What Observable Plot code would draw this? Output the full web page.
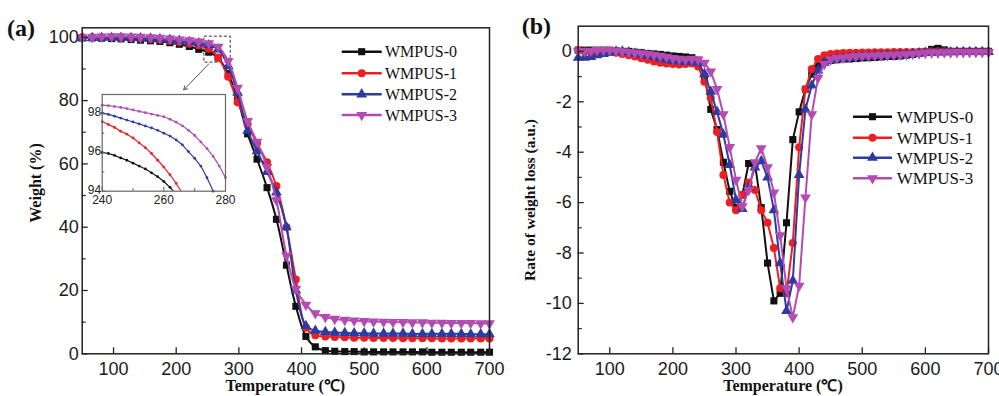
<!DOCTYPE html>
<html><head><meta charset="utf-8">
<script src="https://cdn.jsdelivr.net/npm/d3@7"></script>
<script src="https://cdn.jsdelivr.net/npm/@observablehq/plot@0.6"></script>
<style>
html,body{margin:0;padding:0;background:#fff;}
#wrap{position:relative;width:999px;height:396px;overflow:hidden;background:#fff;}
#wrap svg{position:absolute;}
</style></head><body><div id="wrap"></div>
<script>
// ---------- data ----------
const seriesNames = ["WMPUS-0", "WMPUS-1", "WMPUS-2", "WMPUS-3"];
const seriesColors = ["#111111", "#ee1f23", "#2c3b9f", "#b34bb3"];

// (a) TGA: temperature (°C) and weight (%)
const tgaTemp = [50, 66, 81, 97, 112, 128, 143, 159, 174, 190,
  205, 221, 236, 252, 267, 283, 298, 314, 329, 345,
  360, 376, 391, 407, 422, 438, 453, 469, 484, 500,
  515, 531, 546, 562, 577, 593, 608, 624, 639, 655,
  670, 686, 700];
const tga0 = [99.8, 99.8, 99.7, 99.6, 99.5, 99.3, 99.1, 98.9, 98.7, 98.3,
  97.8, 97.1, 96.2, 95.3, 93.5, 88.5, 80.5, 69.5, 61.5, 52.5,
  42.5, 28.0, 15.0, 5.5, 2.2, 1.0, 0.8, 0.7, 0.7, 0.6,
  0.6, 0.6, 0.6, 0.6, 0.6, 0.6, 0.5, 0.5, 0.5, 0.5,
  0.5, 0.5, 0.5];
const tga1 = [100.0, 100.0, 99.9, 99.9, 99.8, 99.7, 99.6, 99.4, 99.2, 98.9,
  98.5, 98.0, 97.5, 96.4, 93.6, 87.5, 79.5, 72.5, 66.5, 60.5,
  53.0, 40.0, 23.5, 8.2, 5.9, 5.5, 5.3, 5.2, 5.1, 5.1,
  5.0, 5.0, 5.0, 4.9, 4.9, 4.9, 4.9, 4.8, 4.8, 4.8,
  4.8, 4.8, 4.8];
const tga2 = [99.7, 99.8, 99.9, 99.9, 99.9, 99.8, 99.7, 99.6, 99.4, 99.2,
  98.9, 98.5, 98.1, 97.5, 96.2, 91.0, 82.5, 70.5, 64.0, 57.5,
  51.0, 40.0, 20.0, 8.8, 7.3, 6.9, 6.7, 6.6, 6.5, 6.5,
  6.4, 6.4, 6.4, 6.4, 6.3, 6.3, 6.3, 6.3, 6.3, 6.3,
  6.2, 6.2, 6.2];
const tga3 = [99.9, 100.0, 100.2, 100.3, 100.3, 100.2, 100.1, 100.0, 99.8, 99.6,
  99.3, 99.0, 98.6, 98.1, 97.0, 92.5, 84.0, 73.5, 67.0, 59.0,
  48.5, 31.0, 20.5, 15.5, 12.8, 11.6, 11.0, 10.7, 10.5, 10.3,
  10.2, 10.1, 10.0, 10.0, 9.9, 9.9, 9.8, 9.8, 9.7, 9.7,
  9.7, 9.6, 9.6];

// inset of (a): 240–280 °C
const insetTemp = [240, 242, 244, 246, 248, 250, 252, 254, 256, 258,
  260, 262, 264, 266, 268, 270, 272, 274, 276, 278, 280];
const inset0 = [96.0, 95.95, 95.85, 95.72, 95.6, 95.45, 95.3, 95.15, 94.95, 94.75,
  94.5, 94.2, 93.85, null, null, null, null, null, null, null, null];
const inset1 = [97.6, 97.45, 97.3, 97.1, 96.95, 96.75, 96.5, 96.25, 95.95, 95.6,
  95.25, 94.85, 94.4, 93.9, null, null, null, null, null, null, null];
const inset2 = [98.05, 97.97, 97.88, 97.78, 97.68, 97.58, 97.48, 97.37, 97.27, 97.15,
  97.0, 96.85, 96.65, 96.4, 96.05, 95.7, 95.3, 94.7, 94.0, 93.2, null];
const inset3 = [98.45, 98.42, 98.38, 98.33, 98.27, 98.2, 98.13, 98.06, 97.99, 97.92,
  97.85, 97.72, 97.57, 97.38, 97.15, 96.88, 96.55, 96.2, 95.8, 95.3, 94.7];
const zoomBox = [{x1: 245, x2: 287, y1: 92, y2: 100.2}];
const zoomArrow = [{x1: 252, y1: 91.6, x2: 212, y2: 83.4}];

// (b) DTG: temperature (°C) and rate of weight loss (a.u.)
const dtgTemp = [50, 60, 70, 80, 90, 100, 110, 120, 130, 140,
  150, 160, 170, 180, 190, 200, 210, 220, 230, 240,
  250, 260, 270, 280, 290, 300, 310, 320, 330, 340,
  350, 360, 370, 380, 390, 400, 410, 420, 430, 440,
  450, 460, 470, 480, 490, 500, 510, 520, 530, 540,
  550, 560, 570, 580, 590, 600, 610, 620, 630, 640,
  650, 660, 670, 680, 690, 700];
const dtg0 = [0.05, 0.05, 0.05, 0.05, 0.05, 0.05, 0.02, 0.0, 0.0, -0.03,
  -0.05, -0.08, -0.1, -0.12, -0.15, -0.18, -0.2, -0.22, -0.25, -0.35,
  -1.0, -2.3, -3.1, -4.4, -5.55, -6.2, -5.7, -4.45, -4.45, -6.2,
  -8.4, -9.9, -9.6, -6.8, -3.5, -2.4, -1.5, -0.9, -0.55, -0.42,
  -0.36, -0.33, -0.3, -0.3, -0.28, -0.26, -0.25, -0.24, -0.22, -0.2,
  -0.2, -0.18, -0.15, -0.12, -0.08, -0.02, 0.08, 0.12, 0.06, 0.0,
  0.0, 0.0, 0.0, 0.0, 0.0, 0.0];
const dtg1 = [0.05, 0.0, -0.03, 0.0, 0.0, -0.02, -0.05, -0.1, -0.15, -0.2,
  -0.27, -0.33, -0.4, -0.45, -0.48, -0.5, -0.52, -0.5, -0.48, -0.6,
  -1.2, -1.85, -3.2, -4.9, -6.0, -6.3, -5.7, -5.2, -5.5, -6.3,
  -6.8, -7.8, -9.4, -9.6, -7.6, -3.8, -1.5, -0.7, -0.3, -0.15,
  -0.1, -0.08, -0.06, -0.05, -0.05, -0.04, -0.04, -0.03, -0.03, -0.03,
  -0.02, -0.02, -0.02, -0.02, -0.01, 0.0, 0.0, 0.0, 0.0, 0.0,
  0.0, 0.0, 0.0, 0.0, 0.0, 0.0];
const dtg2 = [-0.25, -0.25, -0.22, -0.15, -0.1, -0.05, 0.0, 0.0, -0.03, -0.08,
  -0.12, -0.18, -0.22, -0.28, -0.33, -0.37, -0.4, -0.42, -0.42, -0.45,
  -0.9, -1.6, -2.4, -3.3, -4.5, -5.9, -6.25, -5.4, -4.6, -4.35,
  -5.0, -6.3, -8.4, -10.3, -9.1, -4.9, -2.3, -1.35, -0.75, -0.45,
  -0.35, -0.3, -0.28, -0.25, -0.22, -0.2, -0.2, -0.18, -0.17, -0.16,
  -0.15, -0.14, -0.12, -0.1, -0.08, -0.06, -0.05, -0.04, -0.03, -0.03,
  -0.02, -0.02, -0.02, -0.02, -0.02, -0.02];
const dtg3 = [0.0, 0.0, 0.02, 0.05, 0.05, 0.05, 0.02, 0.0, -0.03, -0.05,
  -0.08, -0.1, -0.14, -0.18, -0.22, -0.27, -0.3, -0.32, -0.3, -0.33,
  -0.45, -0.8, -1.5, -2.5, -3.8, -5.1, -6.15, -5.5, -4.4, -3.85,
  -4.6, -5.6, -7.3, -9.4, -10.55, -9.3, -5.8, -2.5, -1.05, -0.5,
  -0.32, -0.27, -0.25, -0.22, -0.2, -0.18, -0.18, -0.17, -0.16, -0.15,
  -0.14, -0.13, -0.12, -0.1, -0.08, -0.06, -0.05, -0.05, -0.04, -0.04,
  -0.03, -0.03, -0.03, -0.03, -0.03, -0.03];

// ticks
const tempTicks = [100, 200, 300, 400, 500, 600, 700];
const weightTicks = [0, 20, 40, 60, 80, 100];
const weightMinor = [10, 30, 50, 70, 90];
const rateTicks = [-12, -10, -8, -6, -4, -2, 0];
const rateMinor = [-11, -9, -7, -5, -3, -1];
const insetXTicks = [240, 260, 280];
const insetXMinor = [250, 270];
const insetYTicks = [94, 96, 98];
const insetYMinor = [95, 97];

// ---------- helpers ----------
const SERIF = "'Liberation Serif', 'Times New Roman', serif";
const SANS = "'Liberation Sans', Arial, sans-serif";
const sqrt3 = Math.sqrt(3);
const triangleDown = {
  draw(context, size) {
    const y = -Math.sqrt(size / (sqrt3 * 3));
    context.moveTo(0, -y * 2);
    context.lineTo(-sqrt3 * y, y);
    context.lineTo(sqrt3 * y, y);
    context.closePath();
  }
};
const seriesSymbols = ["square", "circle", "triangle", triangleDown];
const d3Sym = {square: d3.symbolSquare, circle: d3.symbolCircle, triangle: d3.symbolTriangle};

function toRows(T, arrays) {
  return arrays.map((vals) => vals.map((v, j) => ({T: T[j], v})).filter((d) => d.v != null));
}

function mainPanel(o) {
  const innerW = o.width - o.ml - o.mr;
  const innerH = o.height - o.mt - o.mb;
  const marks = [...(o.extra || [])];
  o.rows.forEach((rows, i) => {
    marks.push(Plot.line(rows, {x: "T", y: "v", stroke: seriesColors[i], strokeWidth: 2, curve: o.curve}));
    marks.push(Plot.dot(rows, {x: "T", y: "v", symbol: seriesSymbols[i], fill: seriesColors[i], stroke: "none", r: 4}));
  });
  marks.push(Plot.ruleX(tempTicks, {insetTop: innerH - 6, stroke: "#222", strokeWidth: 1.3}));
  marks.push(Plot.ruleY(o.yTicks, {insetRight: innerW - 6, stroke: "#222", strokeWidth: 1.3}));
  marks.push(Plot.ruleY(o.yMinor, {insetRight: innerW - 4, stroke: "#222", strokeWidth: 1.2}));
  marks.push(Plot.axisX({ticks: tempTicks, tickSize: 0, tickPadding: 8, tickFormat: (d) => String(d), label: null}));
  marks.push(Plot.axisY({ticks: o.yTicks, tickSize: 0, tickPadding: o.yPad, tickFormat: (d) => String(d), label: null}));
  marks.push(Plot.frame({stroke: "#222", strokeWidth: 1.5}));
  return Plot.plot({
    width: o.width, height: o.height,
    marginLeft: o.ml, marginRight: o.mr, marginTop: o.mt, marginBottom: o.mb,
    x: {domain: [50, 700], label: null},
    y: {domain: o.yDomain, label: null},
    style: {fontFamily: SANS, fontSize: "18px", color: "#1a1a1a", background: "transparent", overflow: "visible"},
    marks
  });
}

function addText(sel, x, y, text, opts) {
  const t = sel.append("text").attr("x", x).attr("y", y).text(text)
    .attr("font-family", opts.family || SERIF).attr("font-size", opts.size)
    .attr("fill", "#111").attr("text-anchor", opts.anchor || "start");
  if (opts.bold) t.attr("font-weight", "bold");
  if (opts.rotate) t.attr("transform", `rotate(-90 ${x} ${y})`);
  return t;
}

function addLegend(sel, x0, x1, textX, ys, fontSize) {
  const g = sel.append("g").attr("text-anchor", "start");
  ys.forEach((y, i) => {
    g.append("line").attr("x1", x0).attr("x2", x1).attr("y1", y).attr("y2", y)
      .attr("stroke", seriesColors[i]).attr("stroke-width", 2.4);
    const type = typeof seriesSymbols[i] === "string" ? d3Sym[seriesSymbols[i]] : seriesSymbols[i];
    g.append("path").attr("d", d3.symbol(type, Math.PI * 16)())
      .attr("transform", `translate(${(x0 + x1) / 2},${y})`).attr("fill", seriesColors[i]);
    g.append("text").attr("x", textX).attr("y", y).attr("dy", "0.35em").attr("text-anchor", "start")
      .attr("font-family", SERIF).attr("font-size", fontSize).attr("fill", "#111").text(seriesNames[i]);
  });
}

const wrap = document.getElementById("wrap");

// ---------- panel (a) ----------
const svgA = mainPanel({
  width: 500, height: 396, ml: 81.7, mr: 11, mt: 27.3, mb: 42.7,
  yDomain: [0, 103], yTicks: weightTicks, yMinor: weightMinor, yPad: 3.5,
  rows: toRows(tgaTemp, [tga0, tga1, tga2, tga3]), curve: "catmull-rom",
  extra: [
    Plot.rect(zoomBox, {x1: "x1", x2: "x2", y1: "y1", y2: "y2", fill: "none", stroke: "#333", strokeWidth: 1, strokeDasharray: "3,2"}),
    Plot.arrow(zoomArrow, {x1: "x1", y1: "y1", x2: "x2", y2: "y2", stroke: "#555", strokeWidth: 1, headLength: 6})
  ]
});
svgA.style.left = "0px"; svgA.style.top = "0px";
wrap.appendChild(svgA);
const sa = d3.select(svgA);
addText(sa, 7, 36, "(a)", {size: 24, bold: true});
addText(sa, 285.3, 391, "Temperature (℃)", {size: 16, bold: true, anchor: "middle"});
addText(sa, 41, 183, "Weight (%)", {size: 16, bold: true, anchor: "middle", rotate: true});
addLegend(sa, 341.7, 381.7, 385, [51.7, 73.3, 94.3, 115], 16);

// ---------- inset of (a) ----------
const insetRows = toRows(insetTemp, [inset0, inset1, inset2, inset3]);
const iW = 165, iH = 131, iml = 31.7, imr = 10, imt = 14, imb = 20.3;
const insetMarks = [Plot.frame({fill: "white", stroke: null})];
insetRows.forEach((rows, i) => {
  insetMarks.push(Plot.line(rows, {x: "T", y: "v", stroke: seriesColors[i], strokeWidth: 1.2, clip: true}));
  insetMarks.push(Plot.dot(rows.filter((d) => d.v >= 94), {x: "T", y: "v", fill: seriesColors[i], stroke: "none", r: 1.4}));
});
insetMarks.push(Plot.ruleX(insetXTicks, {insetTop: iH - imt - imb - 4, stroke: "#555"}));
insetMarks.push(Plot.ruleX(insetXMinor, {insetTop: iH - imt - imb - 2.5, stroke: "#555"}));
insetMarks.push(Plot.ruleY(insetYTicks, {insetRight: iW - iml - imr - 4, stroke: "#555"}));
insetMarks.push(Plot.ruleY(insetYMinor, {insetRight: iW - iml - imr - 2.5, stroke: "#555"}));
insetMarks.push(Plot.axisX({ticks: insetXTicks, tickSize: 0, tickPadding: 4.5, tickFormat: (d) => String(d), label: null}));
insetMarks.push(Plot.axisY({ticks: insetYTicks, tickSize: 0, tickPadding: 1, dy: -1.5, tickFormat: (d) => String(d), label: null}));
insetMarks.push(Plot.frame({stroke: "#666", strokeWidth: 1.2}));
const svgI = Plot.plot({
  width: iW, height: iH, marginLeft: iml, marginRight: imr, marginTop: imt, marginBottom: imb,
  x: {domain: [240, 280], label: null},
  y: {domain: [94, 99], label: null},
  style: {fontFamily: SANS, fontSize: "12px", color: "#222", background: "transparent", overflow: "visible"},
  marks: insetMarks
});
svgI.style.left = "70px"; svgI.style.top = "80px";
wrap.appendChild(svgI);

// ---------- panel (b) ----------
const svgB = mainPanel({
  width: 499, height: 396, ml: 77.7, mr: 11, mt: 25.7, mb: 42.7,
  yDomain: [-12, 1], yTicks: rateTicks, yMinor: rateMinor, yPad: 6.5,
  rows: toRows(dtgTemp, [dtg0, dtg1, dtg2, dtg3]), curve: "linear"
});
svgB.style.left = "500px"; svgB.style.top = "0px";
wrap.appendChild(svgB);
const sb = d3.select(svgB);
addText(sb, 21.7, 34, "(b)", {size: 24, bold: true});
addText(sb, 283, 391, "Temperature (℃)", {size: 16, bold: true, anchor: "middle"});
addText(sb, 35, 200, "Rate of weight loss (a.u.)", {size: 15.5, bold: true, anchor: "middle", rotate: true});
addLegend(sb, 353, 392, 396.7, [116.7, 137.7, 157.7, 178.3], 17);
</script></body></html>
